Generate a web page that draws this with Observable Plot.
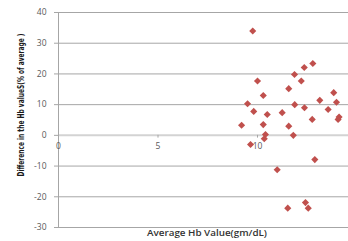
<!DOCTYPE html>
<html>
<head>
<meta charset="utf-8">
<script src="https://cdn.jsdelivr.net/npm/d3@7"></script>
<script src="https://cdn.jsdelivr.net/npm/@observablehq/plot@0.6"></script>
<style>
  html, body { margin: 0; padding: 0; background: #fff; }
  #chart svg { display: block; }
</style>
</head>
<body>
<div id="chart"></div>
<script>
// Average Hb value (gm/dL)
const avgHb = [9.76, 10.0, 11.86, 12.35, 12.78, 12.2, 11.57, 13.83, 10.29, 9.5,
  13.13, 13.97, 11.87, 12.36, 9.81, 10.49, 11.24, 13.55, 14.1, 14.05,
  12.75, 9.2, 10.29, 11.57, 10.4, 10.34, 11.8, 9.65, 12.88, 10.99,
  11.52, 12.41, 12.55];
// Difference in Hb values (% of average)
const diffPct = [34.0, 17.7, 19.8, 22.1, 23.4, 17.7, 15.2, 13.9, 13.0, 10.3,
  11.4, 10.8, 10.0, 9.0, 7.8, 6.8, 7.4, 8.4, 6.0, 5.2,
  5.2, 3.3, 3.5, 3.0, 0.3, -1.1, 0.0, -3.0, -7.9, -11.2,
  -23.7, -21.9, -23.7];
const yTicks = [-30, -20, -10, 0, 10, 20, 30, 40];
const xTicks = [0, 5, 10];
const xLabel = "Average Hb Value(gm/dL)";
const yLabel = "Difference in the Hb valueS(% of average )";

const data = avgHb.map((x, i) => ({x, y: diffPct[i]}));

const W = 348, H = 241, mL = 58, mR = 0, mT = 12, mB = 14;
const pxPerUnit = 19.9;
const xMax = (W - mL - mR) / pxPerUnit;

const plot = Plot.plot({
  width: W, height: H,
  marginLeft: mL, marginRight: mR, marginTop: mT, marginBottom: mB,
  style: {fontFamily: "'Open Sans', sans-serif", background: "#fff"},
  x: {domain: [0, xMax], axis: null},
  y: {domain: [-30, 40], ticks: yTicks, axis: null},
  marks: [
    Plot.gridY(yTicks.filter(d => d !== 0), {stroke: "#a6a6a6", strokeOpacity: 1, strokeWidth: 1}),
    Plot.axisY({ticks: yTicks, tickSize: 4, tickPadding: 8, stroke: "#a6a6a6", fontSize: 8.5, fill: "#595959", tickFormat: d => String(d), label: null}),
    Plot.ruleY([0], {stroke: "#d3d3d3", strokeWidth: 2}),
    Plot.ruleX([0], {stroke: "#a6a6a6"}),
    Plot.ruleX(xTicks.filter(d => d > 0), {x: d => d, y1: 0, y2: -0.9, stroke: "#a6a6a6"}),
    Plot.text(xTicks, {x: d => d, y: 0, dy: 11, text: d => String(d), fontSize: 8.5, fill: "#595959"}),
    Plot.dot(data, {x: "x", y: "y", symbol: "diamond2", r: 3.2, fill: "#c0504d", stroke: "none"})
  ]
});

const svg = d3.select(plot);
svg.append("text")
  .attr("transform", "translate(21,105) rotate(-90)")
  .attr("text-anchor", "middle")
  .attr("dominant-baseline", "middle")
  .attr("font-family", "'Liberation Sans Narrow', 'DejaVu Sans Condensed', sans-serif")
  .attr("font-weight", "bold")
  .attr("font-size", 8)
  .attr("fill", "#1a1a1a")
  .attr("textLength", 143)
  .attr("lengthAdjust", "spacingAndGlyphs")
  .text(yLabel);
svg.append("text")
  .attr("x", 207).attr("y", 234)
  .attr("text-anchor", "middle")
  .attr("dominant-baseline", "middle")
  .attr("font-family", "'Open Sans', sans-serif")
  .attr("font-weight", "600")
  .attr("font-size", 9)
  .attr("fill", "#333")
  .attr("textLength", 120)
  .attr("lengthAdjust", "spacingAndGlyphs")
  .text(xLabel);

document.getElementById("chart").appendChild(plot);
</script>
</body>
</html>
